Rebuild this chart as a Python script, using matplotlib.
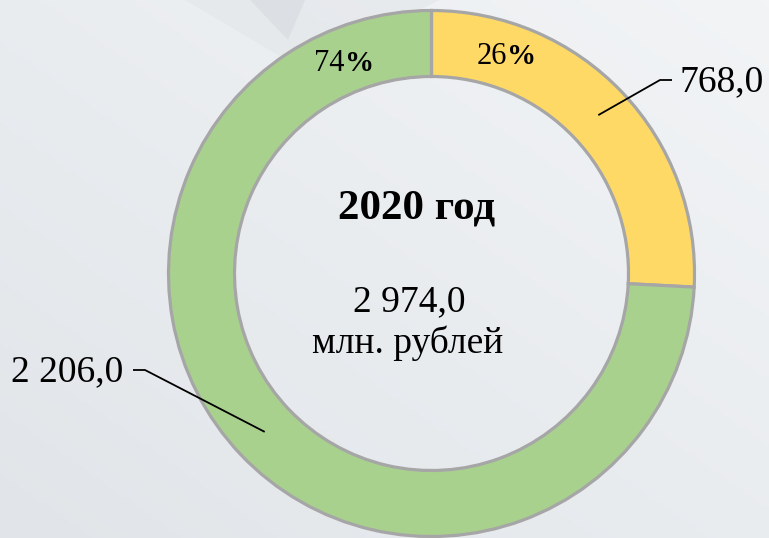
import numpy as np
import matplotlib.pyplot as plt
from matplotlib.colors import LinearSegmentedColormap
from matplotlib.patches import Polygon

# Data
labels = ['Собственные доходы', 'Безвозмездные поступления']
values = [768.0, 2206.0]
value_labels = ['768,0', '2 206,0']
colors = ['#FFD966', '#A9D18E']
year_title = '2020 год'
total_value = '2 974,0'
total_unit = 'млн. рублей'

W, H = 769, 538
plt.rcParams['font.family'] = ['Liberation Serif', 'DejaVu Serif']

fig = plt.figure(figsize=(W / 100, H / 100), dpi=100)
ax = fig.add_axes([0, 0, 1, 1])

# soft gradient background
gx, gy = np.meshgrid(np.linspace(0, 1, 200), np.linspace(0, 1, 150))
grad = (gx + (1 - gy)) / 2
cmap = LinearSegmentedColormap.from_list('bg', ['#E1E5E9', '#F2F4F6'])
ax.imshow(grad, cmap=cmap, extent=[0, W, 0, H], origin='upper', zorder=0)
ax.add_patch(Polygon([(185, H), (440, H), (300, H - 68)], closed=True,
                     facecolor='#DCE0E4', edgecolor='none', alpha=0.35, zorder=0.5))
ax.add_patch(Polygon([(250, H), (305, H), (288, H - 40)], closed=True,
                     facecolor='#D6DBDF', edgecolor='none', alpha=0.6, zorder=0.6))

# donut
cx, cy = 431.5, H - 273.5
R = 263
ring = 66
wedges, _ = ax.pie(values, colors=colors, startangle=90, counterclock=False,
                   center=(cx, cy), radius=R,
                   wedgeprops=dict(width=ring, edgecolor='#A6A6A6', linewidth=2.3))
for w in wedges:
    w.set_zorder(2)

ax.set_xlim(0, W)
ax.set_ylim(0, H)
ax.set_aspect('equal')
ax.axis('off')

# percent labels (number normal, % bold)
total = sum(values)
pcts = [round(v / total * 100) for v in values]
pct_pos = [(507, H - 64), (345, H - 71)]
for p, (x, y) in zip(pcts, pct_pos):
    ax.text(x, y, str(p), fontsize=22, ha='right', va='baseline', zorder=3)
    ax.text(x, y, '%', fontsize=21, fontweight='bold', ha='left', va='baseline', zorder=3)

# leader lines + value labels
elbows = [(660, H - 80), (145, H - 370)]
ends = [(672, H - 80), (133, H - 370)]
for w, txt, (ex, ey), (tx, ty) in zip(wedges, value_labels, elbows, ends):
    ang = np.deg2rad((w.theta1 + w.theta2) / 2)
    rmid = R - ring / 2
    ax_, ay_ = cx + rmid * np.cos(ang), cy + rmid * np.sin(ang)
    ax.plot([ax_, ex, tx], [ay_, ey, ty], color='black', lw=1.3, zorder=3,
            solid_capstyle='butt')
    if tx > cx:
        ax.text(tx + 7, ty - 2, txt, fontsize=27, ha='left', va='center', zorder=3)
    else:
        ax.text(tx - 10, ty - 2, txt, fontsize=27, ha='right', va='center', zorder=3)

# centre text
ax.text(417, H - 218, year_title, fontsize=31, fontweight='bold',
        ha='center', va='baseline', zorder=3)
ax.text(409, H - 311, total_value, fontsize=27, ha='center', va='baseline', zorder=3)
ax.text(408, H - 353, total_unit, fontsize=27, ha='center', va='baseline', zorder=3)

fig.savefig('out.png', dpi=100)
